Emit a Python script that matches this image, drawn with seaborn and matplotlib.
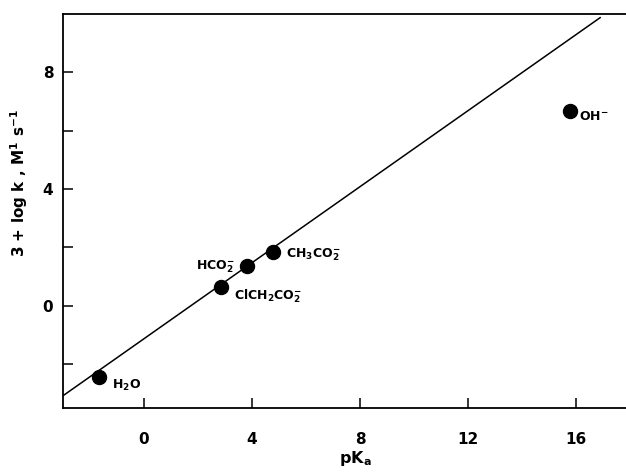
import pandas as pd
import seaborn as sns
import matplotlib.pyplot as plt

# data
species = ['H$_2$O', 'ClCH$_2$CO$_2^{-}$', 'HCO$_2^{-}$', 'CH$_3$CO$_2^{-}$', 'OH$^{-}$']
pka = [-1.66, 2.86, 3.81, 4.78, 15.79]
logk = [-2.43, 0.63, 1.35, 1.83, 6.68]
# correlation line endpoints
fit_x = [-3.0, 16.9]
fit_y = [-3.08, 9.88]

df = pd.DataFrame({'species': species, 'pka': pka, 'logk': logk})
fit = pd.DataFrame({'x': fit_x, 'y': fit_y})

sns.set_style('ticks', {'axes.edgecolor': 'black', 'text.color': 'black',
                        'axes.labelcolor': 'black', 'xtick.color': 'black',
                        'ytick.color': 'black'})
plt.rcParams['font.family'] = ['DejaVu Sans']
plt.rcParams['font.weight'] = 'bold'

fig = plt.figure(figsize=(6.26, 4.73), dpi=100)
ax = fig.add_axes([0.1006, 0.1374, 0.8994, 0.833])

sns.lineplot(data=fit, x='x', y='y', color='black', linewidth=1.1, ax=ax)
sns.scatterplot(data=df, x='pka', y='logk', color='black', s=105,
                edgecolor='black', ax=ax, zorder=3)

# label placement (offsets in points)
offs = {
    'H$_2$O': (9, -6, 'left'),
    'ClCH$_2$CO$_2^{-}$': (9, -6, 'left'),
    'HCO$_2^{-}$': (-9, 0, 'right'),
    'CH$_3$CO$_2^{-}$': (9, -2, 'left'),
    'OH$^{-}$': (6, -4, 'left'),
}
for _, r in df.iterrows():
    dx, dy, ha = offs[r['species']]
    ax.annotate(r['species'], (r['pka'], r['logk']), xytext=(dx, dy),
                textcoords='offset points', ha=ha, va='center',
                fontsize=9, fontweight='bold', color='black')

ax.set_xlim(-3, 17.85)
ax.set_ylim(-3.5, 10)
ax.set_xticks([0, 4, 8, 12, 16])
ax.set_yticks([0, 4, 8])
ax.set_yticks([-2, 2, 6], minor=True)
ax.tick_params(axis='both', which='both', direction='in', length=7, width=1.1,
               labelsize=11, colors='black')
ax.tick_params(axis='x', pad=17)
ax.tick_params(axis='y', pad=7)
for lab in ax.get_xticklabels() + ax.get_yticklabels():
    lab.set_fontweight('bold')

ax.spines['right'].set_visible(False)
for s in ['left', 'top', 'bottom']:
    ax.spines[s].set_linewidth(1.3)
    ax.spines[s].set_color('black')

ax.set_xlabel('pK$_{\\mathbf{a}}$', fontsize=11.5, fontweight='bold', color='black')
ax.set_ylabel('3 + log k , M$^{\\mathbf{1}}$ s$^{\\mathbf{-1}}$', fontsize=11,
              fontweight='bold', color='black')
ax.xaxis.set_label_coords(0.519, -0.105)
ax.yaxis.set_label_coords(-0.058, 0.571)

fig.savefig('out.png', dpi=100)
